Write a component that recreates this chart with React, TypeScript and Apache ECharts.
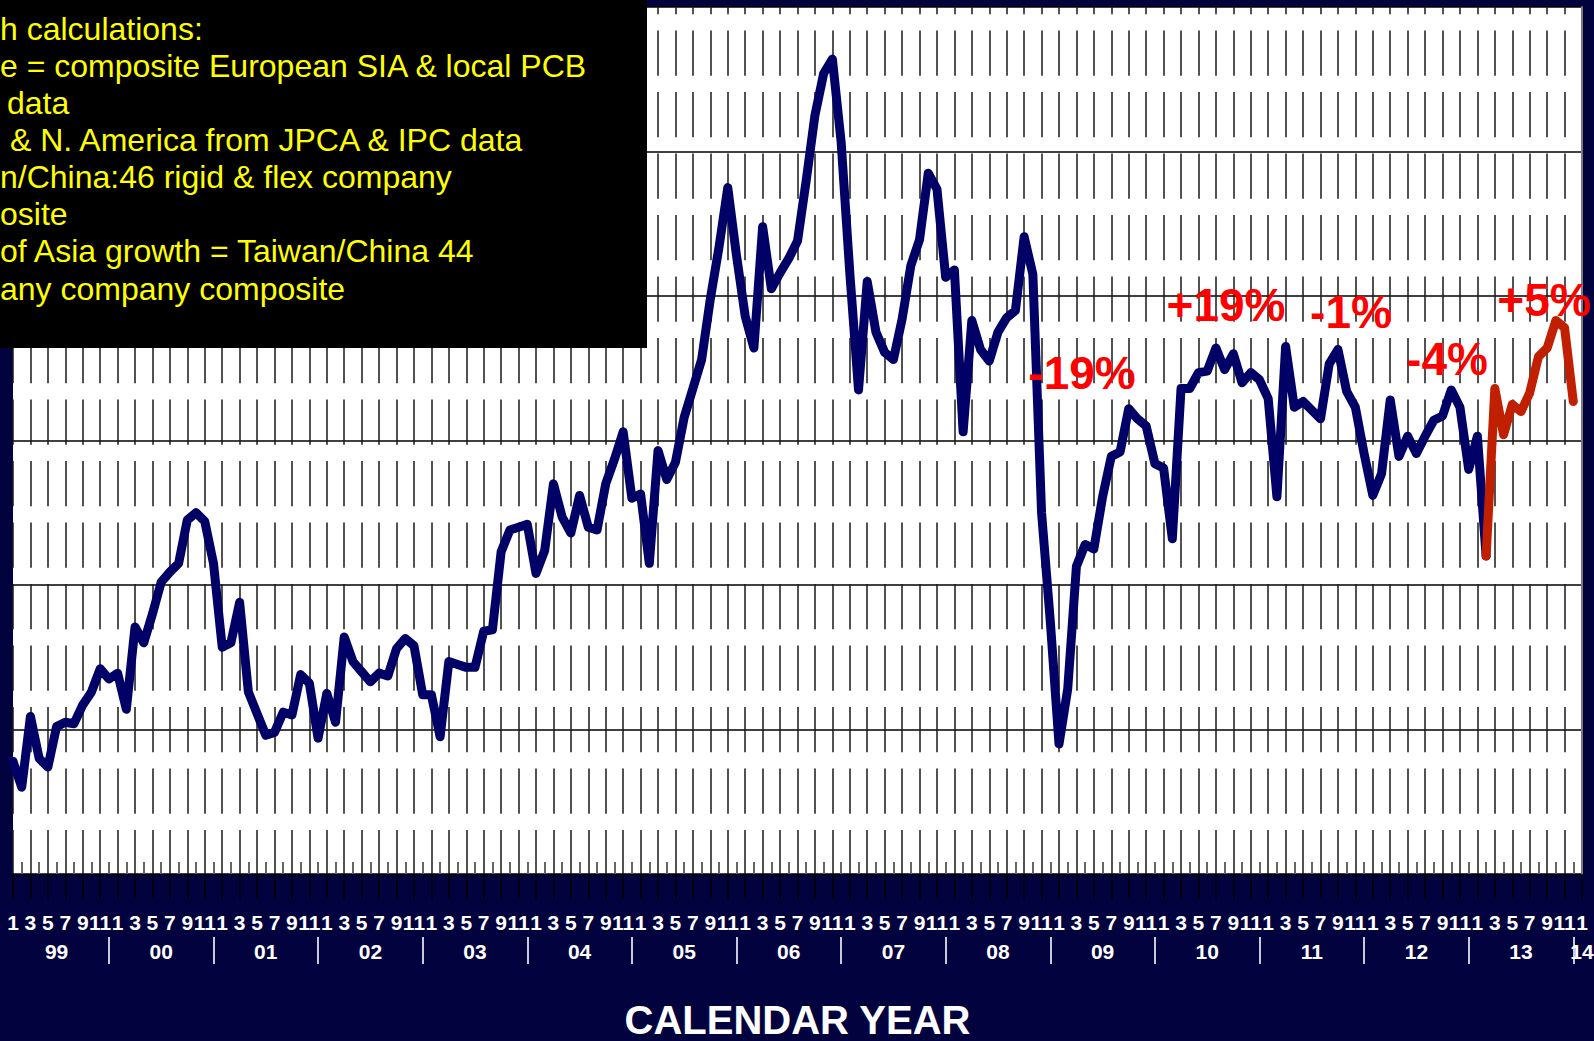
import React, { useEffect, useRef } from 'react';
import * as echarts from 'echarts';

// ---- data ----
const YEARS = ['99', '00', '01', '02', '03', '04', '05', '06', '07', '08', '09', '10', '11', '12', '13', '14'];
const MONTHS = ['1', '2', '3', '4', '5', '6', '7', '8', '9', '10', '11', '12'];

// monthly growth index, Jan 1999 .. Feb 2013 (blue)
const BLUE_1999 = [-22.2, -24.0, -19.1, -22.0, -22.6, -19.8, -19.5, -19.6, -18.3, -17.4, -15.8, -16.5];
const BLUE_2000 = [-16.1, -18.6, -12.9, -14.0, -12.0, -9.8, -9.1, -8.5, -5.5, -5.0, -5.6, -8.5];
const BLUE_2001 = [-14.3, -14.0, -11.2, -17.4, -18.9, -20.4, -20.2, -18.8, -19.0, -16.2, -16.8, -20.6];
const BLUE_2002 = [-17.5, -19.5, -13.6, -15.3, -16.0, -16.7, -16.1, -16.3, -14.4, -13.7, -14.2, -17.6];
const BLUE_2003 = [-17.6, -20.5, -15.3, -15.5, -15.7, -15.7, -13.2, -13.1, -7.7, -6.2, -6.0, -5.8];
const BLUE_2004 = [-9.2, -7.6, -3.0, -5.3, -6.4, -3.8, -6.0, -6.2, -3.0, -1.3, 0.6, -4.0];
const BLUE_2005 = [-3.7, -8.5, -0.7, -2.7, -1.5, 1.6, 3.6, 5.6, 9.8, 13.4, 17.5, 12.8];
const BLUE_2006 = [8.6, 6.4, 14.8, 10.5, 11.6, 12.6, 13.8, 18.0, 22.5, 25.4, 26.4, 20.7];
const BLUE_2007 = [11.6, 3.5, 11.0, 7.5, 6.1, 5.6, 8.4, 12.1, 13.9, 18.5, 17.4, 11.3];
const BLUE_2008 = [11.8, 0.6, 8.3, 6.3, 5.5, 7.5, 8.5, 9.0, 14.1, 11.5, -5.0, -12.5];
const BLUE_2009 = [-21.0, -17.2, -8.7, -7.2, -7.5, -3.9, -1.1, -0.8, 2.2, 1.5, 1.0, -1.6];
const BLUE_2010 = [-1.9, -6.8, 3.6, 3.6, 4.7, 4.8, 6.4, 4.9, 6.0, 4.0, 4.7, 4.2];
const BLUE_2011 = [2.9, -3.9, 6.5, 2.3, 2.7, 2.1, 1.5, 5.3, 6.3, 3.4, 2.3, -0.9];
const BLUE_2012 = [-3.8, -2.3, 2.8, -1.1, 0.3, -0.9, 0.3, 1.4, 1.7, 3.5, 2.3, -2.0];
const BLUE_2013 = [0.3, -8.0];
// Feb 2013 .. Dec 2013 (red)
const RED_2013 = [-8.0, 3.6, 0.4, 2.5, 2.0, 3.3, 5.8, 6.4, 8.3, 7.8, 2.7];

const ANNOTATIONS = ['-19%', '+19%', '-1%', '-4%', '+5%'];
const NOTE_LINES = [
  'h calculations:',
  'e = composite European SIA & local PCB',
  'data',
  '& N. America from JPCA & IPC data',
  'n/China:46 rigid & flex company',
  'osite',
  'of Asia growth = Taiwan/China 44',
  'any company composite',
];
const X_NAME = 'CALENDAR YEAR';

// ---- derived ----
const CATEGORIES: string[] = [];
YEARS.forEach((y, yi) => {
  MONTHS.forEach((m, mi) => {
    if (yi < YEARS.length - 1 || mi === 0) CATEGORIES.push(`${m}/${y}`);
  });
});
const BLUE = [
  ...BLUE_1999, ...BLUE_2000, ...BLUE_2001, ...BLUE_2002, ...BLUE_2003, ...BLUE_2004, ...BLUE_2005,
  ...BLUE_2006, ...BLUE_2007, ...BLUE_2008, ...BLUE_2009, ...BLUE_2010, ...BLUE_2011, ...BLUE_2012, ...BLUE_2013,
];
const RED_START = BLUE.length - 1;
const RED = RED_2013.map((v, k) => [RED_START + k, v]);
const LAST = CATEGORIES.length - 1;

const FONT = '"Liberation Sans", Arial, Helvetica, sans-serif';

// layout (pixels)
const NOTE_X = [0, 0, 7, 10, 0, 0, 0, 0];
const NOTE_Y0 = 28.5;
const NOTE_STEP = 37.15;
const ANN_POS = [
  [1082, 373],
  [1226, 305],
  [1351, 312],
  [1447, 359],
  [1544, 300],
];

function buildOption(): any {
  const graphicElements: any[] = [
    {
      type: 'rect',
      shape: { x: 0, y: 0, width: 647, height: 348 },
      style: { fill: '#000000' },
      z: 100,
    },
    ...NOTE_LINES.map((t, k) => ({
      type: 'text',
      x: NOTE_X[k],
      y: NOTE_Y0 + NOTE_STEP * k,
      z: 101,
      style: {
        text: t,
        fill: '#ffff00',
        fontSize: 32,
        fontFamily: FONT,
        align: 'left',
        textAlign: 'left',
        verticalAlign: 'middle',
        textVerticalAlign: 'middle',
      },
    })),
    ...ANNOTATIONS.map((t, k) => ({
      type: 'text',
      x: ANN_POS[k][0],
      y: ANN_POS[k][1],
      z: 101,
      style: {
        text: t,
        fill: '#ff0000',
        fontSize: 46,
        fontWeight: 'bold',
        fontFamily: FONT,
        align: 'center',
        textAlign: 'center',
        verticalAlign: 'middle',
        textVerticalAlign: 'middle',
      },
    })),
  ];

  return {
    animation: false,
    backgroundColor: '#02023f',
    textStyle: { fontFamily: FONT },
    grid: {
      left: 13,
      right: 12,
      top: 7,
      bottom: 167,
      show: true,
      backgroundColor: '#ffffff',
      borderWidth: 0,
      containLabel: false,
      outerBoundsMode: 'none',
    },
    xAxis: [
      {
        type: 'category',
        data: CATEGORIES,
        boundaryGap: false,
        position: 'bottom',
        axisLine: { show: false, onZero: false },
        axisTick: { show: true, interval: 1, length: 25, lineStyle: { color: '#000000', width: 1.5 } },
        axisLabel: {
          show: true,
          interval: 1,
          margin: 38,
          color: '#ffffff',
          fontSize: 21,
          fontWeight: 'bold',
          fontFamily: FONT,
          formatter: (v: string) => v.split('/')[0],
        },
        splitLine: {
          show: true,
          interval: 1,
          lineStyle: { color: '#1a1a1a', width: 1.5, type: [45.3, 16.2], dashOffset: 38 },
        },
      },
      {
        type: 'category',
        data: CATEGORIES,
        boundaryGap: false,
        position: 'bottom',
        axisLine: { show: false, onZero: false },
        axisLabel: { show: false },
        splitLine: { show: false },
        axisTick: {
          show: true,
          inside: true,
          interval: (i: number) => i % 2 === 1,
          length: 12,
          lineStyle: { color: '#666666', width: 2 },
        },
      },
      {
        type: 'category',
        data: CATEGORIES,
        boundaryGap: false,
        position: 'bottom',
        offset: 63,
        axisLine: { show: false, onZero: false },
        splitLine: { show: false },
        axisTick: {
          show: true,
          interval: (i: number) => i % 12 === 11,
          length: 27,
          lineStyle: { color: '#c8c8d8', width: 2 },
        },
        axisLabel: {
          show: true,
          interval: (i: number) => i % 12 === 5 || i === LAST,
          margin: 4,
          color: '#ffffff',
          fontSize: 21,
          fontWeight: 'bold',
          fontFamily: FONT,
          formatter: (v: string) => v.split('/')[1],
        },
        name: X_NAME,
        nameLocation: 'middle',
        nameGap: 63,
        nameTextStyle: { color: '#ffffff', fontSize: 40, fontWeight: 'bold', fontFamily: FONT },
      },
    ],
    yAxis: [
      {
        type: 'value',
        min: -30,
        max: 30,
        interval: 10,
        axisLine: { show: false },
        axisTick: { show: false },
        axisLabel: { show: false },
        splitLine: { show: true, lineStyle: { color: '#000000', width: 1.5 } },
      },
      {
        type: 'value',
        position: 'right',
        min: -30,
        max: 30,
        interval: 10,
        axisLine: { show: true, onZero: false, lineStyle: { color: '#7a7a7a', width: 2 } },
        axisTick: { show: false },
        axisLabel: { show: false },
        splitLine: { show: false },
      },
    ],
    series: [
      {
        type: 'line',
        name: 'Growth',
        xAxisIndex: 0,
        yAxisIndex: 0,
        data: BLUE,
        symbol: 'none',
        showSymbol: false,
        silent: true,
        z: 5,
        lineStyle: { color: '#000066', width: 9, cap: 'round', join: 'round' },
      },
      {
        type: 'line',
        name: '2013',
        xAxisIndex: 0,
        yAxisIndex: 0,
        data: RED,
        symbol: 'none',
        showSymbol: false,
        silent: true,
        z: 6,
        lineStyle: { color: '#c02000', width: 9, cap: 'round', join: 'round' },
      },
    ],
    graphic: { elements: graphicElements },
  };
}

export default function App() {
  const ref = useRef<HTMLDivElement>(null);
  useEffect(() => {
    if (!ref.current) return;
    const chart = echarts.init(ref.current, null, { renderer: 'svg' });
    chart.setOption(buildOption());
    return () => chart.dispose();
  }, []);
  return (
    <div
      ref={ref}
      style={{ position: 'fixed', left: 0, top: 0, width: 1594, height: 1041 }}
    />
  );
}
